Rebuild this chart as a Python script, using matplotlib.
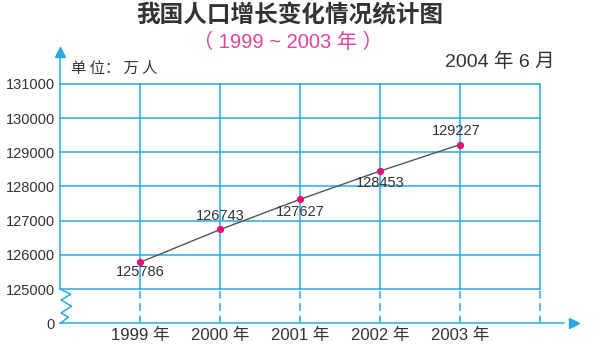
import matplotlib
matplotlib.use("Agg")
import matplotlib.pyplot as plt

plt.rcParams['font.family'] = ['Noto Sans CJK SC', 'DejaVu Sans']
NUM_FONT = ['Liberation Sans', 'Noto Sans CJK SC']

years = [1999, 2000, 2001, 2002, 2003]
population = [125786, 126743, 127627, 128453, 129227]
x_labels = ["1999 年", "2000 年", "2001 年", "2002 年", "2003 年"]
y_levels = [125000, 126000, 127000, 128000, 129000, 130000, 131000]
y_labels = ["0", "125000", "126000", "127000", "128000", "129000", "130000", "131000"]

title = "我国人口增长变化情况统计图"
subtitle = "（ 1999 ~ 2003 年 ）"
unit_text = "单 位： 万 人"
date_text = "2004 年 6 月"

grid_c = "#2aa8de"
point_c = "#e0127a"
text_c = "#333333"

x0, x1 = years[0] - 1, years[-1] + 1          # axis origin and right border
y_zero = y_levels[0] - 1000                     # position standing in for 0 (broken axis)

fig = plt.figure(figsize=(6, 3.48), dpi=100)
ax = fig.add_axes([0.1005, 0.071, 0.88, 0.8256])
ax.set_xlim(x0, x0 + 6.6)
ax.set_ylim(y_zero, y_zero + 8400)
for s in ax.spines.values():
    s.set_visible(False)

lw = 1.1
# horizontal grid
for v in y_levels:
    ax.plot([x0, x1], [v, v], color=grid_c, lw=lw, clip_on=False)
# vertical grid: solid above the break, dashed below
for xv in years + [x1]:
    ax.plot([xv, xv], [y_levels[0], y_levels[-1]], color=grid_c, lw=lw, clip_on=False)
    ax.plot([xv, xv], [y_zero, y_levels[0]], color=grid_c, lw=lw,
            dashes=(5, 3), clip_on=False)

# y axis with arrow
y_top = y_levels[-1] + 800
ax.plot([x0, x0], [y_levels[0], y_top], color=grid_c, lw=lw, clip_on=False)
ax.plot([x0], [y_top + 120], marker="^", ms=7.5, color=grid_c, mec=grid_c, clip_on=False)
# x axis with arrow
x_end = x1 + 0.3
ax.plot([x0, x_end], [y_zero, y_zero], color=grid_c, lw=lw, clip_on=False)
ax.plot([x_end + 0.12], [y_zero], marker=">", ms=7.5, color=grid_c, mec=grid_c, clip_on=False)

# zigzag break on the y axis
zx = [0.0, 0.13, 0.01, 0.14, 0.01, 0.10, 0.0]
zy = [1.0, 0.85, 0.68, 0.5, 0.3, 0.18, 0.0]
ax.plot([x0 + a for a in zx], [y_zero + b * 1000 for b in zy],
        color=grid_c, lw=lw, clip_on=False)

# data line and points
ax.plot(years, population, color="#555555", lw=1.0, zorder=3)
ax.plot(years, population, "o", ms=4.2, color=point_c, mec=point_c, zorder=4)

# value labels (offsets in points)
offsets = [(0, -7), (0, 10), (0, -9), (0, -9), (-3, 10)]
for xv, yv, (dx, dy) in zip(years, population, offsets):
    ax.annotate(str(yv), (xv, yv), xytext=(dx, dy), textcoords="offset points",
                ha="center", va="center", fontsize=10.5, color=text_c,
                family=NUM_FONT)

ax.set_yticks([y_zero] + y_levels)
ax.set_yticklabels(y_labels, fontsize=10.5, color=text_c, family=NUM_FONT)
ax.set_xticks(years)
ax.set_xticklabels(x_labels, fontsize=12, color=text_c, family=NUM_FONT)
ax.tick_params(length=0)
ax.tick_params(axis="y", pad=4)
ax.tick_params(axis="x", pad=3)

fig.text(0.483, 0.955, title, ha="center", va="center", fontsize=17,
         fontweight="bold", color="#333333")
fig.text(0.480, 0.878, subtitle, ha="center", va="center", fontsize=14.5,
         color="#e0449a", family=NUM_FONT)
fig.text(0.118, 0.805, unit_text, ha="left", va="center", fontsize=11,
         color=text_c)
fig.text(0.924, 0.822, date_text, ha="right", va="center", fontsize=14,
         color=text_c, family=NUM_FONT)

fig.savefig("out.png", dpi=100)
